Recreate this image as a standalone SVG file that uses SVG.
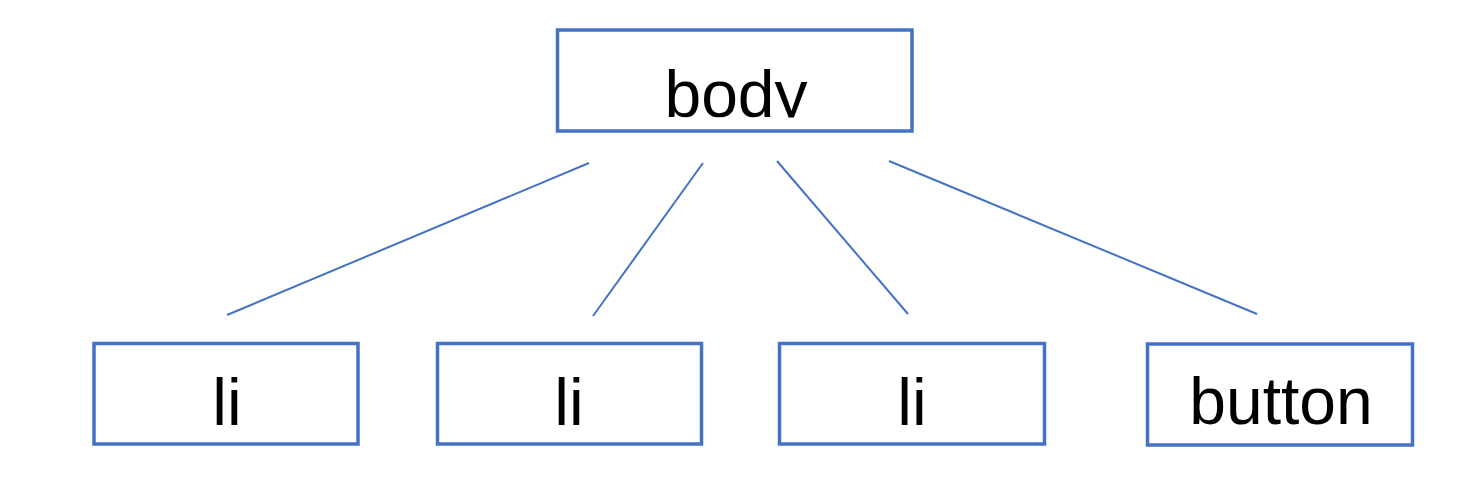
<svg xmlns="http://www.w3.org/2000/svg" width="1458" height="484" viewBox="0 0 1458 484">
<style>
.box{fill:#fff;stroke:#4472C4;stroke-width:3.5}
.lbl{font-family:"Liberation Sans",Arial,sans-serif;font-size:66px;fill:#000;text-anchor:middle}
.conn line{stroke:#4472C4;stroke-width:2}
</style>
<defs>
<clipPath id="bodyclip"><rect x="557" y="30" width="355" height="87.5"/></clipPath>
</defs>
<rect width="1458" height="484" fill="#fff"/>
<g id="connectors" class="conn">
<line x1="589" y1="163" x2="227" y2="315"/>
<line x1="703" y1="163" x2="593" y2="316"/>
<line x1="777" y1="161" x2="908" y2="314"/>
<line x1="889" y1="161" x2="1257" y2="314"/>
</g>
<g id="node-body">
<rect class="box" x="557.5" y="30" width="354.5" height="101"/>
<text class="lbl" x="736" y="117" clip-path="url(#bodyclip)">body</text>
</g>
<g id="node-li1">
<rect class="box" x="94" y="343.5" width="264" height="100.5"/>
<text class="lbl" x="227" y="425">li</text>
</g>
<g id="node-li2">
<rect class="box" x="437.5" y="343.5" width="264" height="100.5"/>
<text class="lbl" x="569" y="425">li</text>
</g>
<g id="node-li3">
<rect class="box" x="779.5" y="343.5" width="265" height="100.5"/>
<text class="lbl" x="912" y="425">li</text>
</g>
<g id="node-button">
<rect class="box" x="1147.5" y="344" width="265" height="101"/>
<text class="lbl" x="1281" y="424">button</text>
</g>
</svg>
